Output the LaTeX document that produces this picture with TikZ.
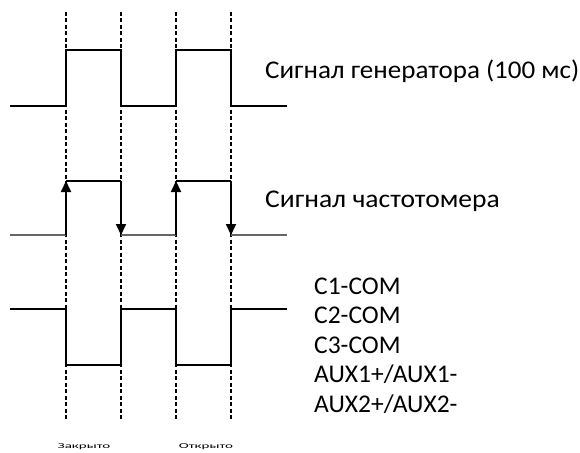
\documentclass[tikz,border=0pt]{standalone}
\usepackage{fontspec}
\setmainfont{Carlito}
\usetikzlibrary{arrows.meta}
\begin{document}
\begin{tikzpicture}[x=1pt,y=-1pt,
  sig/.style={line width=1.4pt,black},
  grey sig/.style={line width=1.1pt,black!60},
  guide/.style={line width=1.3pt,black,dash pattern=on 4pt off 2.5pt},
  edge/.style={line width=2pt,black,-{Triangle[length=11pt,width=10pt]}},
  lbl/.style={anchor=base west,inner sep=0pt,font=\fontsize{25.5}{30}\selectfont},
  tiny/.style={anchor=base,inner sep=0pt,font=\fontsize{7.5}{8}\selectfont}]
\useasboundingbox (0,0) rectangle (580,452);
% guide lines
\foreach \n/\x in {a/66,b/121,c/176,d/231}{
  \coordinate (\n top) at (\x,12);
  \coordinate (\n bot) at (\x,420);
  \draw[guide] (\n top) -- (\n bot);
}
% generator signal
\coordinate (g0) at (10,106);
\coordinate (g1) at (66,106);
\coordinate (g2) at (66,50);
\coordinate (g3) at (121,50);
\coordinate (g4) at (121,106);
\coordinate (g5) at (176,106);
\coordinate (g6) at (176,50);
\coordinate (g7) at (231,50);
\coordinate (g8) at (231,106);
\coordinate (g9) at (287,106);
\draw[sig] (g0) -- (g1) -- (g2) -- (g3) -- (g4) -- (g5) -- (g6) -- (g7) -- (g8) -- (g9);
% frequency meter signal
\coordinate (f0) at (10,235);
\coordinate (f1) at (66,235);
\coordinate (f2) at (66,181);
\coordinate (f3) at (121,181);
\coordinate (f4) at (121,235);
\coordinate (f5) at (176,235);
\coordinate (f6) at (176,181);
\coordinate (f7) at (231,181);
\coordinate (f8) at (231,235);
\coordinate (f9) at (287,235);
\draw[grey sig] (f0) -- (f1);
\draw[grey sig] (f4) -- (f5);
\draw[grey sig] (f8) -- (f9);
\draw[sig] (f2) -- (f3);
\draw[sig] (f6) -- (f7);
\draw[edge] (f1) -- (f2);
\draw[edge] (f3) -- (f4);
\draw[edge] (f5) -- (f6);
\draw[edge] (f7) -- (f8);
% contacts signal
\coordinate (c0) at (10,309);
\coordinate (c1) at (66,309);
\coordinate (c2) at (66,365);
\coordinate (c3) at (121,365);
\coordinate (c4) at (121,309);
\coordinate (c5) at (176,309);
\coordinate (c6) at (176,365);
\coordinate (c7) at (231,365);
\coordinate (c8) at (231,309);
\coordinate (c9) at (287,309);
\draw[sig] (c0) -- (c1) -- (c2) -- (c3) -- (c4) -- (c5) -- (c6) -- (c7) -- (c8) -- (c9);
% labels
\node[lbl] (gen) at (265,78) {\scalebox{1.06}[1]{Сигнал генератора (100 мс)}};
\node[lbl] (freq) at (265,207) {\scalebox{1.08}[1]{Сигнал частотомера}};
\node[lbl] (k1) at (314,294) {C1-COM};
\node[lbl] (k2) at (314,323.5) {C2-COM};
\node[lbl] (k3) at (314,353) {C3-COM};
\node[lbl] (k4) at (314,382.5) {AUX1+/AUX1-};
\node[lbl] (k5) at (314,412) {AUX2+/AUX2-};
\node[tiny] (closed) at (84,448) {\scalebox{2}[1]{Закрыто}};
\node[tiny] (open) at (206,448) {\scalebox{2}[1]{Открыто}};
\end{tikzpicture}
\end{document}
